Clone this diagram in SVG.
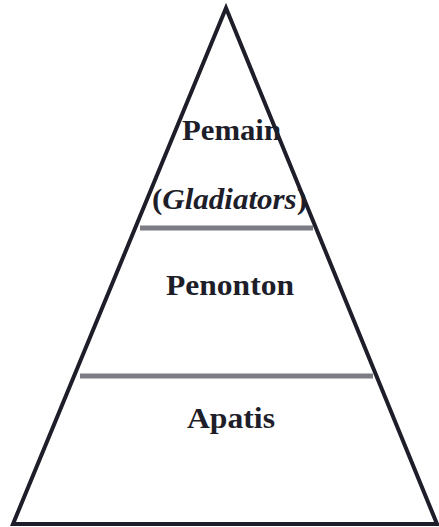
<svg xmlns="http://www.w3.org/2000/svg" width="439" height="527" viewBox="0 0 439 527">
<style>
.t{font-family:"Liberation Serif","Times New Roman",serif;font-weight:bold;font-size:28.5px;fill:#1e1e2a}
.sep{stroke:#7c7c84;stroke-width:5}
</style>
<rect width="439" height="527" fill="#ffffff"/>
<g id="pyramid">
<polygon points="226,8 437,524 13,524" fill="none" stroke="#1e1e2a" stroke-width="4" stroke-linejoin="miter"/>
</g>
<g id="connectors">
<line class="sep" x1="140" y1="228" x2="313" y2="228"/>
<line class="sep" x1="80" y1="376" x2="373" y2="376"/>
</g>
<g id="pemain">
<text class="t" x="182" y="140" textLength="99" lengthAdjust="spacingAndGlyphs">Pemain</text>
<text class="t" x="152" y="209" textLength="155" lengthAdjust="spacingAndGlyphs">(<tspan font-style="italic">Gladiators</tspan>)</text>
</g>
<g id="penonton">
<text class="t" x="166" y="295" textLength="128" lengthAdjust="spacingAndGlyphs">Penonton</text>
</g>
<g id="apatis">
<text class="t" x="187" y="428" textLength="88" lengthAdjust="spacingAndGlyphs">Apatis</text>
</g>
</svg>
